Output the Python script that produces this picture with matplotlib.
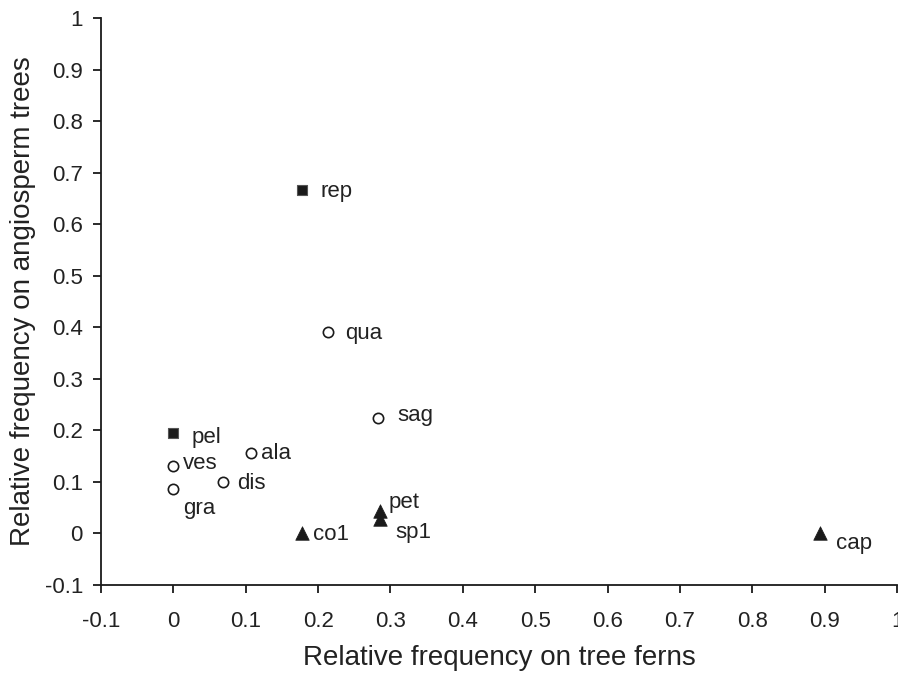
import numpy as np
import matplotlib.pyplot as plt

plt.rcParams['font.family'] = ['Liberation Sans', 'DejaVu Sans']

# species codes and their relative frequencies
names = ['rep', 'pel', 'qua', 'sag', 'ala', 'ves', 'dis', 'gra', 'pet', 'sp1', 'co1', 'cap']
tree_ferns = [0.178, 0.0, 0.214, 0.283, 0.107, 0.0, 0.069, 0.0, 0.286, 0.286, 0.178, 0.894]
angio_trees = [0.667, 0.195, 0.39, 0.224, 0.156, 0.13, 0.099, 0.087, 0.043, 0.028, 0.0, 0.0]
groups = ['sq', 'sq', 'ci', 'ci', 'ci', 'ci', 'ci', 'ci', 'tr', 'tr', 'tr', 'tr']

# label offsets (points) from each marker
offsets = {'rep': (13, -1), 'pel': (13, -3), 'qua': (12, -1), 'sag': (14, 2),
           'ala': (7, 0), 'ves': (7, 2), 'dis': (10, -1), 'gra': (7, -14),
           'pet': (6, 6), 'sp1': (11, -10), 'co1': (8, -1), 'cap': (11, -7)}

styles = {
    'sq': dict(marker='s', s=60, facecolor='#1a1a1a', edgecolor='#555555', linewidths=0.8),
    'ci': dict(marker='o', s=55, facecolor='white', edgecolor='#1a1a1a', linewidths=1.2),
    'tr': dict(marker='^', s=95, facecolor='#1a1a1a', edgecolor='#1a1a1a', linewidths=0.5),
}

fig = plt.figure(figsize=(8.98, 6.73), dpi=100)
ax = fig.add_axes([0.1125, 0.1308, 0.8864, 0.8425])

x = np.array(tree_ferns)
y = np.array(angio_trees)
g = np.array(groups)
for key in ['sq', 'ci', 'tr']:
    m = g == key
    ax.scatter(x[m], y[m], zorder=3, clip_on=False, **styles[key])

for n, xx, yy in zip(names, tree_ferns, angio_trees):
    ax.annotate(n, (xx, yy), xytext=offsets[n], textcoords='offset points',
                ha='left', va='center', fontsize=16, color='#222222')

ax.set_xlim(-0.1, 1)
ax.set_ylim(-0.1, 1)
xt = np.round(np.arange(-0.1, 1.01, 0.1), 1)
ax.set_xticks(xt)
ax.set_yticks(xt)
lbl = ['-0.1', '0'] + ['%g' % v for v in xt[2:]]
ax.set_xticklabels(lbl)
ax.set_yticklabels(lbl)

for s in ['top', 'right']:
    ax.spines[s].set_visible(False)
for s in ['left', 'bottom']:
    ax.spines[s].set_linewidth(1.3)
    ax.spines[s].set_color('#1a1a1a')
ax.tick_params(direction='out', length=6, width=1.3, labelsize=16, pad=7, colors='#1a1a1a',
               labelcolor='#222222')
ax.tick_params(axis='x', pad=13)

ax.set_xlabel('Relative frequency on tree ferns', fontsize=20, labelpad=9, color='#222222')
ax.set_ylabel('Relative frequency on angiosperm trees', fontsize=20, labelpad=6, color='#222222')

fig.savefig('out.png', dpi=100)
